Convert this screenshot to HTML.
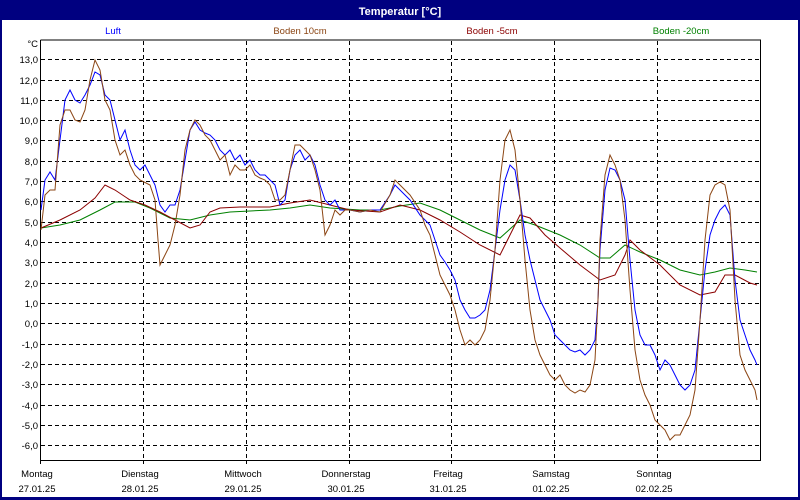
<!DOCTYPE html>
<html><head><meta charset="utf-8"><style>
body{margin:0;width:800px;height:500px;overflow:hidden;background:#fff}
svg{display:block;font-family:"Liberation Sans",sans-serif}
</style></head><body>
<svg width="800" height="500" xmlns="http://www.w3.org/2000/svg">
<rect x="0" y="0" width="800" height="500" fill="#000080"/>
<rect x="2" y="20" width="796" height="477" fill="#fff"/>
<text x="400" y="15" fill="#fff" font-size="11" font-weight="bold" text-anchor="middle">Temperatur [°C]</text>
<g font-size="9.5" text-anchor="middle">
<text x="113" y="34" fill="#0000ff">Luft</text>
<text x="300" y="34" fill="#8b4513">Boden 10cm</text>
<text x="492" y="34" fill="#8b0000">Boden -5cm</text>
<text x="681" y="34" fill="#008000">Boden -20cm</text>
</g>
<g stroke="#000" stroke-dasharray="4,3" stroke-width="1">
<line x1="41" x2="760" y1="59.5" y2="59.5"/><line x1="41" x2="760" y1="80.5" y2="80.5"/><line x1="41" x2="760" y1="100.5" y2="100.5"/><line x1="41" x2="760" y1="120.5" y2="120.5"/><line x1="41" x2="760" y1="140.5" y2="140.5"/><line x1="41" x2="760" y1="161.5" y2="161.5"/><line x1="41" x2="760" y1="181.5" y2="181.5"/><line x1="41" x2="760" y1="201.5" y2="201.5"/><line x1="41" x2="760" y1="222.5" y2="222.5"/><line x1="41" x2="760" y1="242.5" y2="242.5"/><line x1="41" x2="760" y1="262.5" y2="262.5"/><line x1="41" x2="760" y1="283.5" y2="283.5"/><line x1="41" x2="760" y1="303.5" y2="303.5"/><line x1="41" x2="760" y1="323.5" y2="323.5"/><line x1="41" x2="760" y1="344.5" y2="344.5"/><line x1="41" x2="760" y1="364.5" y2="364.5"/><line x1="41" x2="760" y1="384.5" y2="384.5"/><line x1="41" x2="760" y1="405.5" y2="405.5"/><line x1="41" x2="760" y1="425.5" y2="425.5"/><line x1="41" x2="760" y1="445.5" y2="445.5"/>
<line x1="143.5" x2="143.5" y1="41" y2="464"/><line x1="246.5" x2="246.5" y1="41" y2="464"/><line x1="349.5" x2="349.5" y1="41" y2="464"/><line x1="451.5" x2="451.5" y1="41" y2="464"/><line x1="554.5" x2="554.5" y1="41" y2="464"/><line x1="657.5" x2="657.5" y1="41" y2="464"/>
</g>
<polyline points="40.5,40 40.5,460.5 760.5,460.5 760.5,40 40.5,40" fill="none" stroke="#000" stroke-width="1"/>
<line x1="40.5" y1="460" x2="40.5" y2="464" stroke="#000"/>
<g font-size="9.5" text-anchor="end" fill="#000">
<text x="38" y="47">°C</text>
<text x="38" y="63">13,0</text><text x="38" y="84">12,0</text><text x="38" y="104">11,0</text><text x="38" y="124">10,0</text><text x="38" y="144">9,0</text><text x="38" y="165">8,0</text><text x="38" y="185">7,0</text><text x="38" y="205">6,0</text><text x="38" y="226">5,0</text><text x="38" y="246">4,0</text><text x="38" y="266">3,0</text><text x="38" y="287">2,0</text><text x="38" y="307">1,0</text><text x="38" y="327">0,0</text><text x="38" y="348">-1,0</text><text x="38" y="368">-2,0</text><text x="38" y="388">-3,0</text><text x="38" y="409">-4,0</text><text x="38" y="429">-5,0</text><text x="38" y="449">-6,0</text>
</g>
<g font-size="9.5" text-anchor="middle" fill="#000">
<text x="37" y="477">Montag</text><text x="37" y="492">27.01.25</text>
<text x="140" y="477">Dienstag</text><text x="140" y="492">28.01.25</text>
<text x="243" y="477">Mittwoch</text><text x="243" y="492">29.01.25</text>
<text x="346" y="477">Donnerstag</text><text x="346" y="492">30.01.25</text>
<text x="448" y="477">Freitag</text><text x="448" y="492">31.01.25</text>
<text x="551" y="477">Samstag</text><text x="551" y="492">01.02.25</text>
<text x="654" y="477">Sonntag</text><text x="654" y="492">02.02.25</text>
</g>
<g fill="none" stroke-width="1">
<polyline stroke="#008000" points="41,228 60,225 80,220 100,210 115,202 135,202 150,208 170,218 190,220 210,215 230,212 270,210 290,208 310,205 330,208 360,210 380,210 400,206 420,203 440,210 460,220 480,230 500,238 520,220 535,225 560,235 580,245 600,258 610,258 625,245 640,252 660,260 680,270 700,275 715,272 730,268 745,270 757,272"/>
<polyline stroke="#8b0000" points="41,228 60,220 80,210 95,198 105,185 115,190 130,200 145,205 160,212 175,220 190,228 200,225 210,212 220,208 240,207 270,207 290,203 310,200 330,205 350,210 380,212 400,205 420,210 440,220 460,232 480,245 500,255 510,235 520,215 530,218 545,235 560,248 580,265 600,280 615,275 625,255 630,240 640,250 660,265 680,285 700,295 715,292 725,275 735,275 750,283 757,285"/>
<polyline stroke="#0000ff" points="41,210 45,180 50,172 55,180 60,140 65,100 70,90 75,100 80,103 85,95 90,85 95,72 100,75 105,95 110,100 115,120 120,140 125,130 130,150 135,165 140,170 145,165 150,175 155,185 160,205 165,212 170,205 175,205 180,190 185,160 190,130 195,122 200,130 205,133 210,135 215,140 220,150 225,155 230,150 235,160 240,155 245,165 250,160 255,170 260,175 265,175 270,180 275,185 280,205 285,200 290,170 295,155 300,150 305,160 310,155 315,165 320,185 325,200 330,205 335,200 340,210 345,210 350,210 360,212 370,210 380,210 390,195 395,185 400,190 410,200 420,215 430,225 435,240 440,255 445,262 450,270 455,280 460,300 465,310 470,318 475,318 480,315 485,310 490,290 495,250 500,210 505,180 510,165 515,170 520,200 525,235 530,260 535,280 540,300 545,310 550,320 555,335 560,340 565,345 570,350 575,352 580,350 585,355 590,350 595,340 598,300 600,250 605,190 610,168 615,170 620,180 625,200 630,260 635,310 640,335 645,345 650,345 655,355 660,370 665,360 670,365 675,375 680,385 685,390 690,385 695,370 700,320 705,270 710,235 715,220 720,210 725,205 730,215 735,280 740,320 745,335 750,350 755,360 757,365"/>
<polyline stroke="#8b4513" points="41,230 45,195 50,190 55,190 60,125 65,110 70,110 75,120 80,122 85,110 90,80 95,60 100,70 105,100 110,110 115,140 120,155 125,150 130,165 135,175 140,180 150,185 155,200 158,240 160,265 165,255 170,245 175,225 180,195 185,150 190,130 195,120 200,125 205,135 210,140 215,150 220,160 225,155 230,175 235,165 240,170 245,170 250,165 255,175 260,178 265,180 270,185 275,200 280,200 285,195 290,170 295,145 300,145 305,150 310,155 315,170 320,190 325,235 330,225 335,210 340,215 345,210 350,210 360,212 370,210 380,212 390,195 395,180 400,185 410,195 420,210 425,225 430,235 435,255 440,275 445,285 450,295 455,310 460,330 465,345 470,340 475,345 480,340 485,330 490,300 495,250 500,180 505,140 510,130 515,150 520,200 525,260 530,310 535,340 540,355 545,365 550,375 555,380 560,375 565,385 570,390 575,393 580,390 585,392 590,385 595,360 598,300 600,240 605,175 610,155 615,165 620,180 625,220 630,290 635,350 640,380 645,395 650,405 655,420 660,425 665,430 670,440 675,435 680,435 685,425 690,415 695,390 700,320 705,240 710,195 715,185 720,182 725,185 730,210 735,300 740,355 745,370 750,380 755,390 757,400"/>
</g>
</svg>
</body></html>
